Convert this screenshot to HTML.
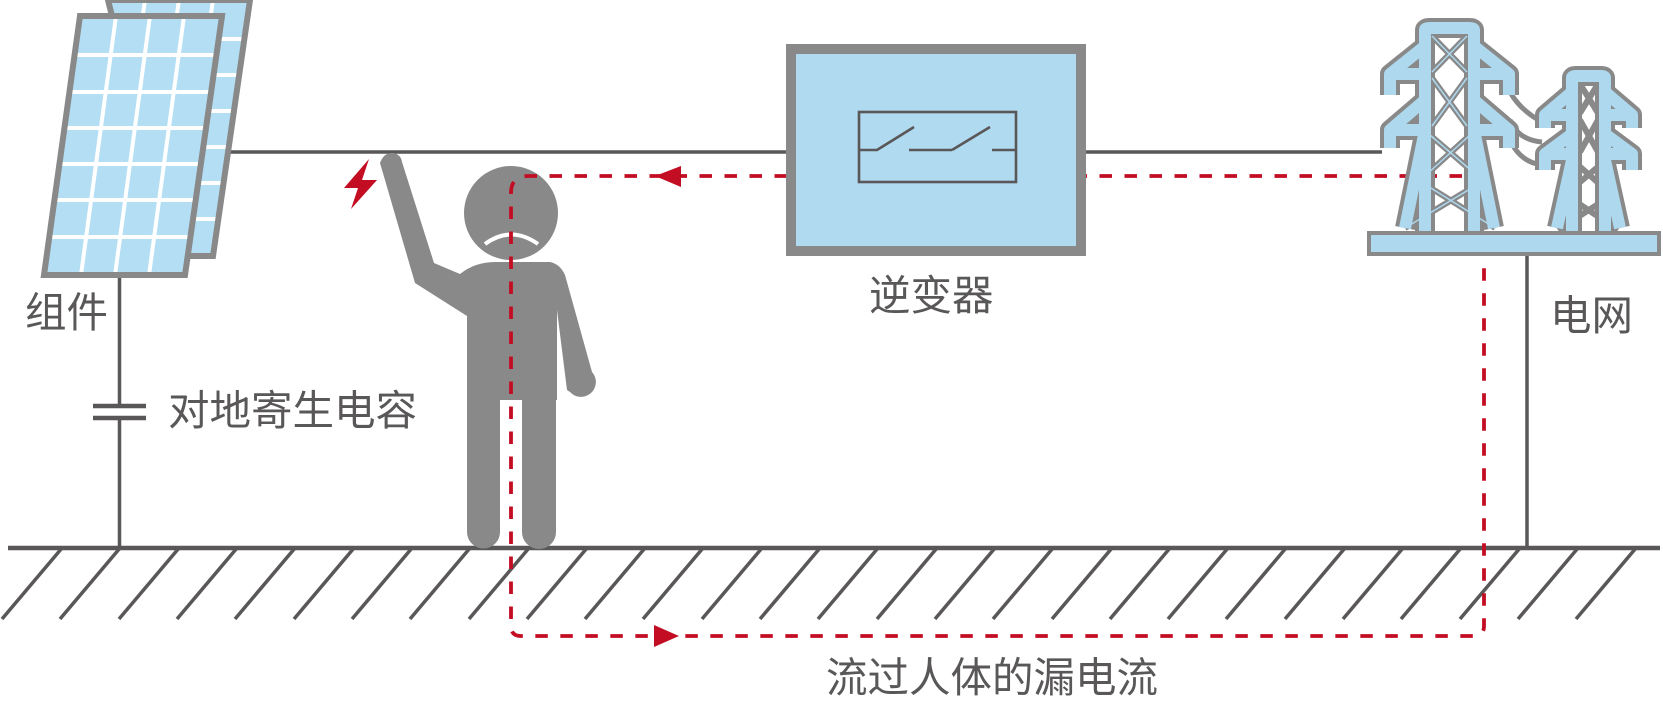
<!DOCTYPE html>
<html><head><meta charset="utf-8"><style>
html,body{margin:0;padding:0;background:#fff}
svg{display:block}
text{font-family:"Liberation Sans","Noto Sans CJK SC",sans-serif;fill:#595757;font-size:41.5px}
</style></head><body>
<svg width="1663" height="701" viewBox="0 0 1663 701" xmlns="http://www.w3.org/2000/svg">
<defs>
<clipPath id="bp"><polygon points="108,0 250,0 213,256 172,256"/></clipPath>
<clipPath id="fp"><polygon points="80,16 222,16 185,275 44,275"/></clipPath>
</defs>
<g stroke="#595757" stroke-width="3.5" fill="none">
<line x1="225" y1="152" x2="790" y2="152"/>
<line x1="1080" y1="152" x2="1382" y2="152"/>
<line x1="119.5" y1="270" x2="119.5" y2="406"/>
<line x1="119.5" y1="418" x2="119.5" y2="549"/>
<line x1="93" y1="406" x2="146" y2="406" stroke-width="4.5"/>
<line x1="93" y1="418" x2="146" y2="418" stroke-width="4.5"/>
<line x1="1527" y1="250" x2="1527" y2="549"/>
<line x1="8" y1="548" x2="1660" y2="548" stroke-width="4.5"/>
</g>
<g stroke="#595757" stroke-width="3.5">
<line x1="62" y1="548" x2="2" y2="619"/><line x1="120" y1="548" x2="60" y2="619"/><line x1="179" y1="548" x2="119" y2="619"/><line x1="237" y1="548" x2="177" y2="619"/><line x1="295" y1="548" x2="235" y2="619"/><line x1="354" y1="548" x2="294" y2="619"/><line x1="412" y1="548" x2="352" y2="619"/><line x1="470" y1="548" x2="410" y2="619"/><line x1="529" y1="548" x2="469" y2="619"/><line x1="587" y1="548" x2="527" y2="619"/><line x1="645" y1="548" x2="585" y2="619"/><line x1="703" y1="548" x2="643" y2="619"/><line x1="762" y1="548" x2="702" y2="619"/><line x1="820" y1="548" x2="760" y2="619"/><line x1="878" y1="548" x2="818" y2="619"/><line x1="937" y1="548" x2="877" y2="619"/><line x1="995" y1="548" x2="935" y2="619"/><line x1="1053" y1="548" x2="993" y2="619"/><line x1="1112" y1="548" x2="1052" y2="619"/><line x1="1170" y1="548" x2="1110" y2="619"/><line x1="1228" y1="548" x2="1168" y2="619"/><line x1="1286" y1="548" x2="1226" y2="619"/><line x1="1345" y1="548" x2="1285" y2="619"/><line x1="1403" y1="548" x2="1343" y2="619"/><line x1="1461" y1="548" x2="1401" y2="619"/><line x1="1520" y1="548" x2="1460" y2="619"/><line x1="1578" y1="548" x2="1518" y2="619"/><line x1="1636" y1="548" x2="1576" y2="619"/>
</g>
<polygon points="108,0 250,0 213,256 172,256" fill="#b3def3"/>
<g clip-path="url(#bp)" stroke="#fff" stroke-width="4">
<line x1="100" y1="39" x2="260" y2="39"/><line x1="100" y1="75" x2="260" y2="75"/><line x1="100" y1="111" x2="260" y2="111"/><line x1="100" y1="147" x2="260" y2="147"/><line x1="100" y1="183" x2="260" y2="183"/><line x1="100" y1="219" x2="260" y2="219"/>
<line x1="145" y1="0" x2="108" y2="256"/><line x1="179" y1="0" x2="142" y2="256"/><line x1="213" y1="0" x2="176" y2="256"/>
</g>
<polygon points="108,0 250,0 213,256 172,256" fill="none" stroke="#898989" stroke-width="6"/>
<polygon points="80,16 222,16 185,275 44,275" fill="#b3def3"/>
<g clip-path="url(#fp)" stroke="#fff" stroke-width="4">
<line x1="30" y1="55" x2="240" y2="55"/><line x1="30" y1="92" x2="240" y2="92"/><line x1="30" y1="128" x2="240" y2="128"/><line x1="30" y1="164" x2="240" y2="164"/><line x1="30" y1="200" x2="240" y2="200"/><line x1="30" y1="237" x2="240" y2="237"/>
<line x1="116" y1="16" x2="81" y2="275"/><line x1="150" y1="16" x2="115" y2="275"/><line x1="184" y1="16" x2="149" y2="275"/>
</g>
<polygon points="80,16 222,16 185,275 44,275" fill="none" stroke="#898989" stroke-width="6"/>
<polygon points="369,159 362,180 377,180 351,209 358,188 344,188" fill="#c30d23"/>
<g fill="#898989">
<circle cx="511" cy="213" r="47"/>
<path d="M380,163 Q384,152 394,153 Q401,155 402,162 L434,263 L460,274 Q475,262 495,262 L550,262 Q560,264 565,275 L592,372 A13,13 0 1 1 570,392 L567,390 L557,310 L557,400 L467,400 L467,316 L415,283 Z"/>
<path d="M467,395 L500,395 L500,532 A16.5,16.5 0 0 1 467,532 Z"/>
<path d="M522,395 L556,395 L556,532 A17,17 0 0 1 522,532 Z"/>
</g>
<path d="M485,244 Q511,225 538,244" stroke="#fff" stroke-width="4" fill="none"/>
<g stroke="#c30d23" stroke-width="3.8" fill="none" stroke-dasharray="12.5 12.5">
<path d="M1462,176 L528,176 Q511,176 511,193 L511,626 Q511,636 521,636 L1474,636 Q1484,636 1484,626 L1484,255"/>
</g>
<polygon points="655,176 681,166 681,187" fill="#c30d23"/>
<polygon points="679,636 654,625 654,647" fill="#c30d23"/>
<rect x="791" y="49" width="290" height="202" fill="#b0daf0" stroke="#898989" stroke-width="10"/>
<g stroke="#595757" stroke-width="2.6" fill="none">
<rect x="859" y="112" width="157" height="70"/>
<polyline points="859,150 877,150 914,127"/>
<line x1="909" y1="150" x2="952" y2="150"/>
<line x1="952" y1="150" x2="990" y2="127"/>
<line x1="992" y1="150" x2="1016" y2="150"/>
</g>
<g fill="none" stroke="#898989" stroke-width="5">
<path d="M1510,92 Q1520,110 1542,122"/>
<path d="M1510,120 Q1518,140 1542,142"/>
<path d="M1510,140 Q1520,162 1542,165"/>
</g>
<g fill="none" stroke-linejoin="round">
<g stroke="#898989" stroke-width="20">
<path d="M1425,232 L1425,30 Q1425,28 1430,28 L1469,28 Q1474,28 1474,30 L1474,232"/>
<path d="M1425,130 L1405,228 M1474,130 L1494,228"/>
<path d="M1425,46 L1390,74 L1390,95 M1390,74 L1425,74 M1474,46 L1509,74 L1509,95 M1509,74 L1474,74"/>
<path d="M1425,100 L1390,130 L1390,148 M1390,130 L1425,130 M1474,100 L1509,130 L1509,148 M1509,130 L1474,130"/>
<path d="M1572,232 L1572,78 Q1572,76 1576,76 L1601,76 Q1605,76 1605,78 L1605,232"/>
<path d="M1572,160 L1557,228 M1605,160 L1620,228"/>
<path d="M1572,92 L1545,115 L1545,128 M1545,115 L1572,115 M1605,92 L1632,115 L1632,128 M1632,115 L1605,115"/>
<path d="M1572,134 L1545,154 L1545,170 M1545,154 L1572,154 M1605,134 L1632,154 L1632,170 M1632,154 L1605,154"/>
</g>
<g stroke="#898989" stroke-width="6">
<path d="M1432,36 L1467,72 M1467,36 L1432,72 M1432,78 L1467,126 M1467,78 L1432,126"/>
<path d="M1430,135 L1488,185 M1470,135 L1415,185 M1418,180 L1495,228 M1485,180 L1405,228"/>
<path d="M1580,84 L1598,113 M1598,84 L1580,113 M1580,120 L1598,152 M1598,120 L1580,152"/>
<path d="M1578,165 L1612,195 M1600,165 L1565,195 M1566,195 L1618,230 M1612,195 L1558,230"/>
</g>
<g stroke="#add8ee" stroke-width="12">
<path d="M1425,232 L1425,30 Q1425,28 1430,28 L1469,28 Q1474,28 1474,30 L1474,232"/>
<path d="M1425,130 L1405,228 M1474,130 L1494,228"/>
<path d="M1425,46 L1390,74 L1390,95 M1390,74 L1425,74 M1474,46 L1509,74 L1509,95 M1509,74 L1474,74"/>
<path d="M1425,100 L1390,130 L1390,148 M1390,130 L1425,130 M1474,100 L1509,130 L1509,148 M1509,130 L1474,130"/>
<path d="M1572,232 L1572,78 Q1572,76 1576,76 L1601,76 Q1605,76 1605,78 L1605,232"/>
<path d="M1572,160 L1557,228 M1605,160 L1620,228"/>
<path d="M1572,92 L1545,115 L1545,128 M1545,115 L1572,115 M1605,92 L1632,115 L1632,128 M1632,115 L1605,115"/>
<path d="M1572,134 L1545,154 L1545,170 M1545,154 L1572,154 M1605,134 L1632,154 L1632,170 M1632,154 L1605,154"/>
</g>
<g stroke="#add8ee" stroke-width="1.5">
<path d="M1432,36 L1467,72 M1467,36 L1432,72 M1432,78 L1467,126 M1467,78 L1432,126"/>
<path d="M1430,135 L1488,185 M1470,135 L1415,185 M1418,180 L1495,228 M1485,180 L1405,228"/>
</g>
</g>
<rect x="1369" y="233" width="290" height="21" fill="#add8ee" stroke="#898989" stroke-width="4"/>
<text x="25" y="327">组件</text>
<text x="168" y="425">对地寄生电容</text>
<text x="869" y="310">逆变器</text>
<text x="1550" y="330">电网</text>
<text x="826" y="692">流过人体的漏电流</text>
</svg>
</body></html>
